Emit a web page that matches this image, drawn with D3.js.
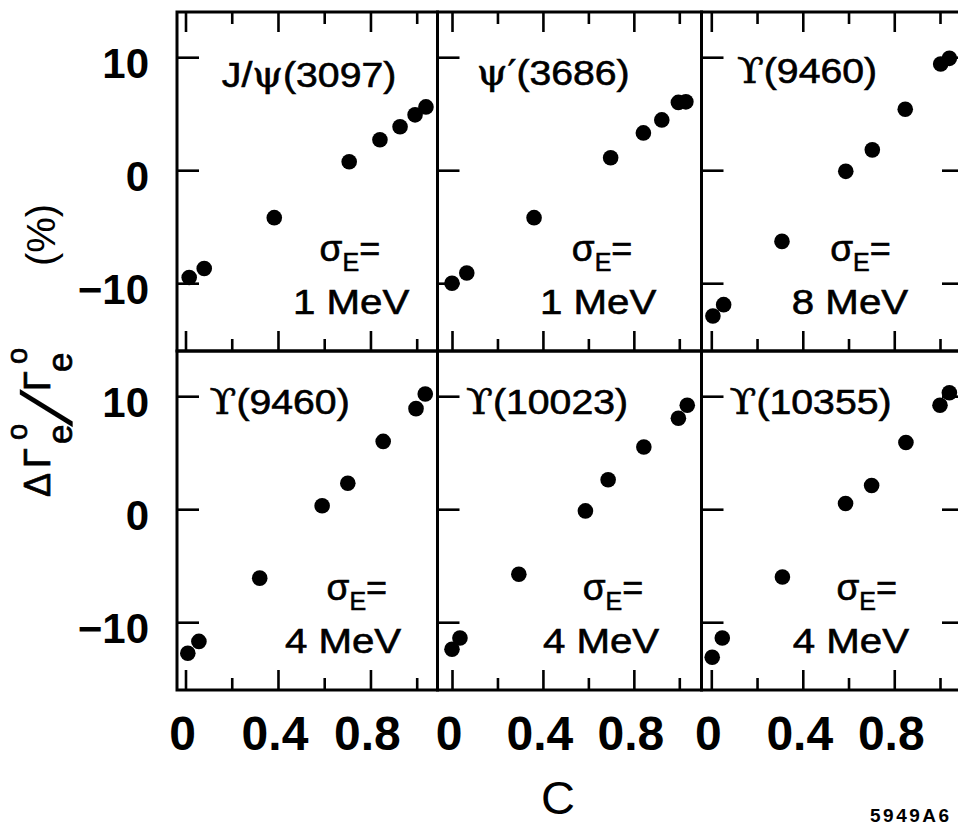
<!DOCTYPE html>
<html>
<head>
<meta charset="utf-8">
<script src="https://cdn.jsdelivr.net/npm/d3@7"></script>
<style>
  html, body { margin: 0; padding: 0; background: #fff; }
  svg { display: block; }
  text { font-family: "Liberation Sans", Arial, Helvetica, sans-serif; fill: #000; }
</style>
</head>
<body>
<svg id="chart" width="958" height="825"></svg>
<script>
// ---- data: relative change of Gamma_ee versus C, one pair of arrays per resonance ----
const panelNames = ["J/ψ(3097)", "ψ′(3686)", "ϒ(9460)", "ϒ(9460)", "ϒ(10023)", "ϒ(10355)"];
const sigmaLabels = ["1 MeV", "1 MeV", "8 MeV", "4 MeV", "4 MeV", "4 MeV"];

const cJpsi     = [0.016, 0.081, 0.384, 0.708, 0.841, 0.928, 0.993, 1.040];
const dJpsi     = [-9.5, -8.7, -4.2, 0.75, 2.7, 3.85, 4.9, 5.6];

const cPsi2     = [0.000, 0.065, 0.361, 0.698, 0.842, 0.923, 0.996, 1.029];
const dPsi2     = [-10.0, -9.1, -4.2, 1.1, 3.3, 4.45, 6.0, 6.05];

const cUps1s8   = [0.007, 0.054, 0.309, 0.588, 0.704, 0.848, 1.003, 1.041];
const dUps1s8   = [-12.9, -11.9, -6.3, -0.1, 1.8, 5.4, 9.4, 9.9];

const cUps1s4   = [0.010, 0.058, 0.321, 0.591, 0.702, 0.855, 0.997, 1.037];
const dUps1s4   = [-12.75, -11.7, -6.1, 0.3, 2.3, 6.0, 8.9, 10.2];

const cUps2s    = [0.000, 0.035, 0.294, 0.587, 0.687, 0.844, 0.996, 1.035];
const dUps2s    = [-12.4, -11.4, -5.75, -0.15, 2.6, 5.5, 8.05, 9.2];

const cUps3s    = [0.004, 0.048, 0.311, 0.587, 0.701, 0.851, 1.000, 1.041];
const dUps3s    = [-13.1, -11.4, -6.0, 0.5, 2.1, 5.9, 9.2, 10.3];

const xTicksMajor = [0, 0.4, 0.8];
const xTicksMinor = [0.2, 0.6, 1.0];
const yTicks = [10, 0, -10];
const yDomain = [-16, 14];

const seriesC = [cJpsi, cPsi2, cUps1s8, cUps1s4, cUps2s, cUps3s];
const seriesD = [dJpsi, dPsi2, dUps1s8, dUps1s4, dUps2s, dUps3s];

// ---- layout ----
const colLeft  = [177, 437.5, 701.5];
const colRight = [437.5, 701.5, 964];
const colZero  = [185.5, 452, 711.3];   // pixel of C = 0 in each column
const colOne   = [416.7, 679.3, 940];   // pixel of C = 1 in each column
const rowTop    = [12, 351];
const rowBottom = [351, 690];

// in-panel text placement (data units of each panel)
const titleAt = [[0.157, 7.4], [0.109, 7.5], [0.112, 7.7], [0.104, 8.4], [0.062, 8.4], [0.080, 8.4]];
const sigmaAt = [0.58, 0.527, 0.52, 0.61, 0.575, 0.547];
const mevAt   = [0.465, 0.387, 0.352, 0.43, 0.40, 0.356];

const svg = d3.select("#chart");
const fmtX = d3.format("~g");
const fmtY = d => d < 0 ? "\u2212" + Math.abs(d) : String(d);
const greek = /[\u0370-\u03FF\u2032]/;

function styleTicks(g) {
  g.select(".domain").remove();
  g.selectAll(".tick line").attr("stroke", "#000").attr("stroke-width", 2.6);
  g.selectAll(".tick text").remove();
}

panelNames.forEach((name, i) => {
  const row = Math.floor(i / 3), col = i % 3;
  const x = d3.scaleLinear().domain([0, 1]).range([colZero[col], colOne[col]]);
  const y = d3.scaleLinear().domain(yDomain).range([rowBottom[row], rowTop[row]]);
  const g = svg.append("g").attr("class", "panel");

  // tick marks pointing into the frame
  g.append("g").attr("transform", `translate(${colLeft[col]},0)`)
    .call(d3.axisRight(y).tickValues(yTicks).tickSize(22)).call(styleTicks);
  if (col === 2) {
    g.append("g").attr("transform", `translate(${colRight[col]},0)`)
      .call(d3.axisLeft(y).tickValues(yTicks).tickSize(22)).call(styleTicks);
  }
  g.append("g").attr("transform", `translate(0,${rowBottom[row]})`)
    .call(d3.axisTop(x).tickValues(xTicksMajor).tickSize(20)).call(styleTicks);
  g.append("g").attr("transform", `translate(0,${rowBottom[row]})`)
    .call(d3.axisTop(x).tickValues(xTicksMinor).tickSize(12)).call(styleTicks);
  if (row === 0) {
    g.append("g").attr("transform", `translate(0,${rowTop[row]})`)
      .call(d3.axisBottom(x).tickValues(xTicksMajor).tickSize(20)).call(styleTicks);
    g.append("g").attr("transform", `translate(0,${rowTop[row]})`)
      .call(d3.axisBottom(x).tickValues(xTicksMinor).tickSize(12)).call(styleTicks);
  }

  // frame
  g.append("rect")
    .attr("x", colLeft[col]).attr("y", rowTop[row])
    .attr("width", colRight[col] - colLeft[col]).attr("height", rowBottom[row] - rowTop[row])
    .attr("fill", "none").attr("stroke", "#000").attr("stroke-width", 3);

  // y tick labels on the first column
  if (col === 0) {
    svg.append("g").selectAll("text").data(yTicks).join("text")
      .attr("x", 149).attr("y", d => y(d) + 21)
      .attr("text-anchor", "end").attr("font-size", 42).attr("font-weight", "bold")
      .text(fmtY);
  }
  // x tick labels on the bottom row
  if (row === 1) {
    svg.append("g").selectAll("text").data(xTicksMajor).join("text")
      .attr("x", d => x(d) - 3).attr("y", 750)
      .attr("text-anchor", "middle").attr("font-size", 48).attr("font-weight", "bold")
      .text(fmtX);
  }

  // points
  const pts = seriesC[i].map((c, k) => ({ c, d: seriesD[i][k] }));
  g.append("g").selectAll("circle").data(pts).join("circle")
    .attr("cx", p => x(p.c)).attr("cy", p => y(p.d)).attr("r", 7.8).attr("fill", "#000");

  // resonance name
  const t = g.append("text")
    .attr("transform", `translate(${x(titleAt[i][0])},${y(titleAt[i][1])}) scale(1.12,1)`)
    .attr("font-size", 35).attr("stroke", "#000").attr("stroke-width", 0.6);
  name.split(/([\u0370-\u03FF\u2032]+)/).filter(s => s.length).forEach(s => {
    t.append("tspan")
      .attr("font-family", greek.test(s) ? "'DejaVu Serif', 'Liberation Serif', serif" : null)
      .text(s);
  });

  // beam energy spread
  const s = g.append("text")
    .attr("x", x(sigmaAt[i])).attr("y", y(-8))
    .attr("stroke", "#000").attr("stroke-width", 0.6);
  s.append("tspan").attr("font-size", 37).text("σ");
  s.append("tspan").attr("font-size", 25).attr("dy", 10).text("E");
  s.append("tspan").attr("font-size", 36).attr("dy", -10).text("=");

  g.append("text")
    .attr("transform", `translate(${x(mevAt[i])},${y(-12.7)}) scale(1.15,1)`)
    .attr("font-size", 35).attr("stroke", "#000").attr("stroke-width", 0.6)
    .text(sigmaLabels[i]);
});

// x axis title
svg.append("text").attr("x", 558).attr("y", 814).attr("text-anchor", "middle")
  .attr("font-size", 47).text("C");

// figure code
svg.append("text").attr("x", 870).attr("y", 822).attr("font-size", 19)
  .attr("font-weight", "bold").attr("letter-spacing", 2.5).text("5949A6");

// y axis title: ΔΓe°/Γe°  (rotated)
const yt = svg.append("g").attr("transform", "translate(50,497) rotate(-90)")
  .attr("stroke", "#000").attr("stroke-width", 0.7);
const serif = "'Liberation Serif', 'DejaVu Serif', serif";
yt.append("text").attr("x", 0).attr("y", 0).attr("font-size", 36).attr("font-family", serif).text("Δ");
yt.append("text").attr("x", 29).attr("y", 0).attr("font-size", 36).attr("font-family", serif).text("Γ");
yt.append("text").attr("x", 53).attr("y", 22).attr("font-size", 35).text("e");
yt.append("text").attr("x", 57).attr("y", -23).attr("font-size", 29).text("o");
yt.append("text").attr("transform", "translate(70,22) skewX(-19)").attr("font-size", 72)
  .attr("stroke-width", 0).text("/");
yt.append("text").attr("x", 106).attr("y", 0).attr("font-size", 36).attr("font-family", serif).text("Γ");
yt.append("text").attr("x", 125).attr("y", 22).attr("font-size", 35).text("e");
yt.append("text").attr("x", 133).attr("y", -23).attr("font-size", 29).text("o");

// unit
svg.append("text").attr("transform", "translate(55,235) rotate(-90)")
  .attr("text-anchor", "middle").attr("font-size", 40).text("(%)");
</script>
</body>
</html>
